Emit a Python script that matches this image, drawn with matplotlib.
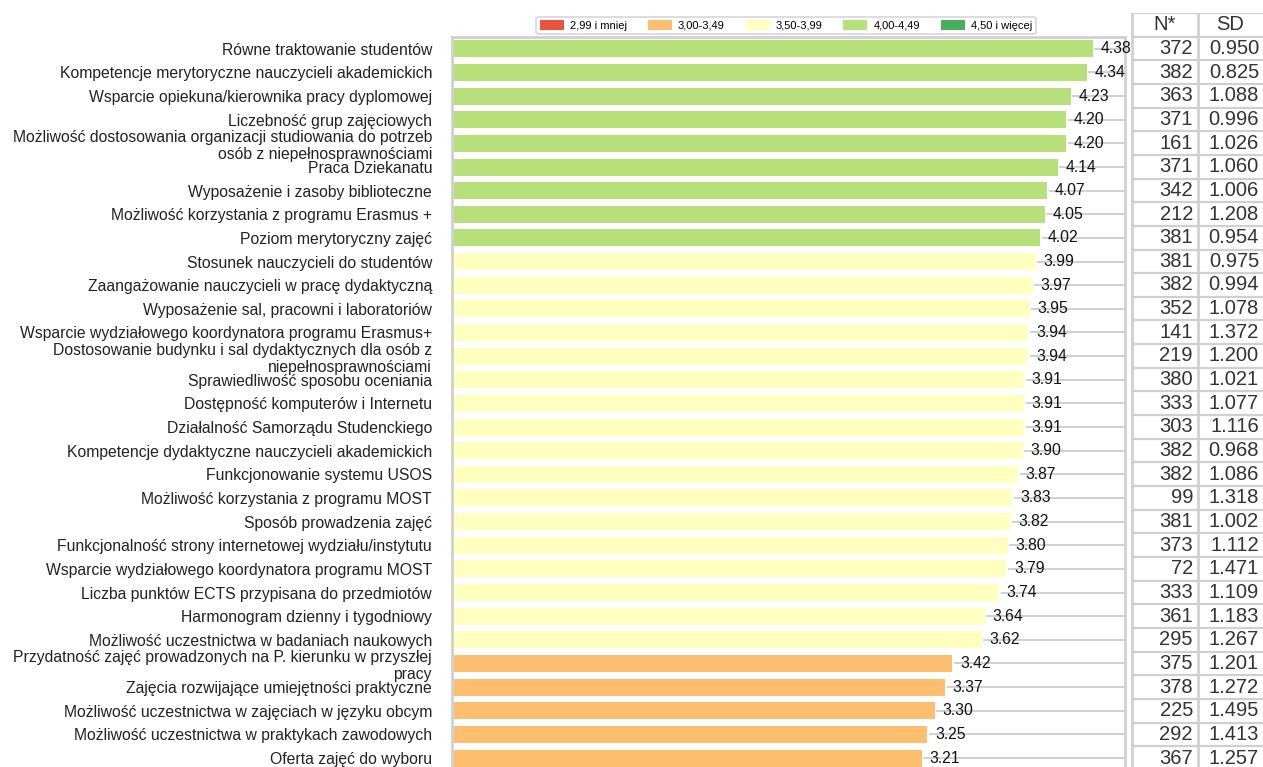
import matplotlib
matplotlib.use("Agg")
import matplotlib.pyplot as plt
from matplotlib.patches import Patch
import numpy as np

plt.rcParams['font.family'] = ['Liberation Sans', 'DejaVu Sans']

labels = [
    "Równe traktowanie studentów",
    "Kompetencje merytoryczne nauczycieli akademickich",
    "Wsparcie opiekuna/kierownika pracy dyplomowej",
    "Liczebność grup zajęciowych",
    "Możliwość dostosowania organizacji studiowania do potrzeb\nosób z niepełnosprawnościami",
    "Praca Dziekanatu",
    "Wyposażenie i zasoby biblioteczne",
    "Możliwość korzystania z programu Erasmus +",
    "Poziom merytoryczny zajęć",
    "Stosunek nauczycieli do studentów",
    "Zaangażowanie nauczycieli w pracę dydaktyczną",
    "Wyposażenie sal, pracowni i laboratoriów",
    "Wsparcie wydziałowego koordynatora programu Erasmus+",
    "Dostosowanie budynku i sal dydaktycznych dla osób z\nniepełnosprawnościami",
    "Sprawiedliwość sposobu oceniania",
    "Dostępność komputerów i Internetu",
    "Działalność Samorządu Studenckiego",
    "Kompetencje dydaktyczne nauczycieli akademickich",
    "Funkcjonowanie systemu USOS",
    "Możliwość korzystania z programu MOST",
    "Sposób prowadzenia zajęć",
    "Funkcjonalność strony internetowej wydziału/instytutu",
    "Wsparcie wydziałowego koordynatora programu MOST",
    "Liczba punktów ECTS przypisana do przedmiotów",
    "Harmonogram dzienny i tygodniowy",
    "Możliwość uczestnictwa w badaniach naukowych",
    "Przydatność zajęć prowadzonych na P. kierunku w przyszłej\npracy",
    "Zajęcia rozwijające umiejętności praktyczne",
    "Możliwość uczestnictwa w zajęciach w języku obcym",
    "Możliwość uczestnictwa w praktykach zawodowych",
    "Oferta zajęć do wyboru",
]
means = [4.38, 4.34, 4.23, 4.20, 4.20, 4.14, 4.07, 4.05, 4.02, 3.99, 3.97, 3.95,
         3.94, 3.94, 3.91, 3.91, 3.91, 3.90, 3.87, 3.83, 3.82, 3.80, 3.79, 3.74,
         3.64, 3.62, 3.42, 3.37, 3.30, 3.25, 3.21]
n_counts = [372, 382, 363, 371, 161, 371, 342, 212, 381, 381, 382, 352, 141, 219,
            380, 333, 303, 382, 382, 99, 381, 373, 72, 333, 361, 295, 375, 378,
            225, 292, 367]
sds = [0.950, 0.825, 1.088, 0.996, 1.026, 1.060, 1.006, 1.208, 0.954, 0.975,
       0.994, 1.078, 1.372, 1.200, 1.021, 1.077, 1.116, 0.968, 1.086, 1.318,
       1.002, 1.112, 1.471, 1.109, 1.183, 1.267, 1.201, 1.272, 1.495, 1.413,
       1.257]
legend_labels = ["2,99 i mniej", "3,00-3,49", "3,50-3,99", "4,00-4,49", "4,50 i więcej"]
bin_edges = [3.0, 3.5, 4.0, 4.5]
bin_colors = ["#E8553C", "#FDBF6F", "#FFFFBF", "#B8E07A", "#48AE5B"]
table_headers = ["N*", "SD"]

W, H = 1263, 767
fig = plt.figure(figsize=(W / 100, H / 100), dpi=100)

def px(x0, y0, x1, y1):
    return [x0 / W, 1 - y1 / H, (x1 - x0) / W, (y1 - y0) / H]

grid_col = "#d0d0d0"
nrows = len(labels)
ybot = 30.38

ax = fig.add_axes(px(452, 37, 1125, 767))
y = np.arange(nrows)
colors = [bin_colors[int(np.searchsorted(bin_edges, m, side='right'))] for m in means]
xmax = 4.6
ax.hlines(y, np.array(means) + 0.01, xmax, color=grid_col, lw=1.4, zorder=1)
ax.barh(y, means, height=0.72, color=colors, zorder=2)
for yi, m in zip(y, means):
    ax.text(m + 0.052, yi, f"{m:.2f}", va="center", ha="left", fontsize=11.3,
            color="#111111", zorder=3)
ax.set_xlim(0, xmax)
ax.set_ylim(ybot, -0.5)
ax.set_yticks(y)
ax.set_yticklabels(labels, fontsize=11.3, color="#222222")
ax.tick_params(axis="y", length=0, pad=14.4)
ax.set_xticks([])
for s in ["left", "top", "right"]:
    ax.spines[s].set_color(grid_col)
    ax.spines[s].set_linewidth(2)
ax.spines["bottom"].set_visible(False)

# table
tx = fig.add_axes(px(1131, 13, 1263, 767))
tx.set_xlim(0, 132)
tx.set_ylim(ybot, -1.5)
tx.axis("off")
for b in np.arange(-1.5, nrows, 1.0):
    tx.axhline(b, color=grid_col, lw=1.6)
for xv in [0.5, 67]:
    tx.axvline(xv, color=grid_col, lw=2)
tx.text(33.5, -1, table_headers[0], ha="center", va="center", fontsize=14.5, color="#333333")
tx.text(99.5, -1, table_headers[1], ha="center", va="center", fontsize=14.5, color="#333333")
for i in range(nrows):
    tx.text(62, i, f"{n_counts[i]}", ha="right", va="center", fontsize=14.5, color="#333333")
    tx.text(128, i, f"{sds[i]:.3f}", ha="right", va="center", fontsize=14.5, color="#333333")

handles = [Patch(facecolor=c, edgecolor="none") for c in bin_colors]
leg = fig.legend(handles, legend_labels, loc="upper center", ncol=5, fontsize=8,
                 bbox_to_anchor=(786 / W, 1 - 11 / H), frameon=True,
                 handlelength=2.15, handleheight=1.05, columnspacing=1.9,
                 handletextpad=0.55, borderpad=0.3)
leg.get_frame().set_edgecolor("#cccccc")
leg.get_frame().set_linewidth(1.2)

fig.savefig("out.png", dpi=100)
